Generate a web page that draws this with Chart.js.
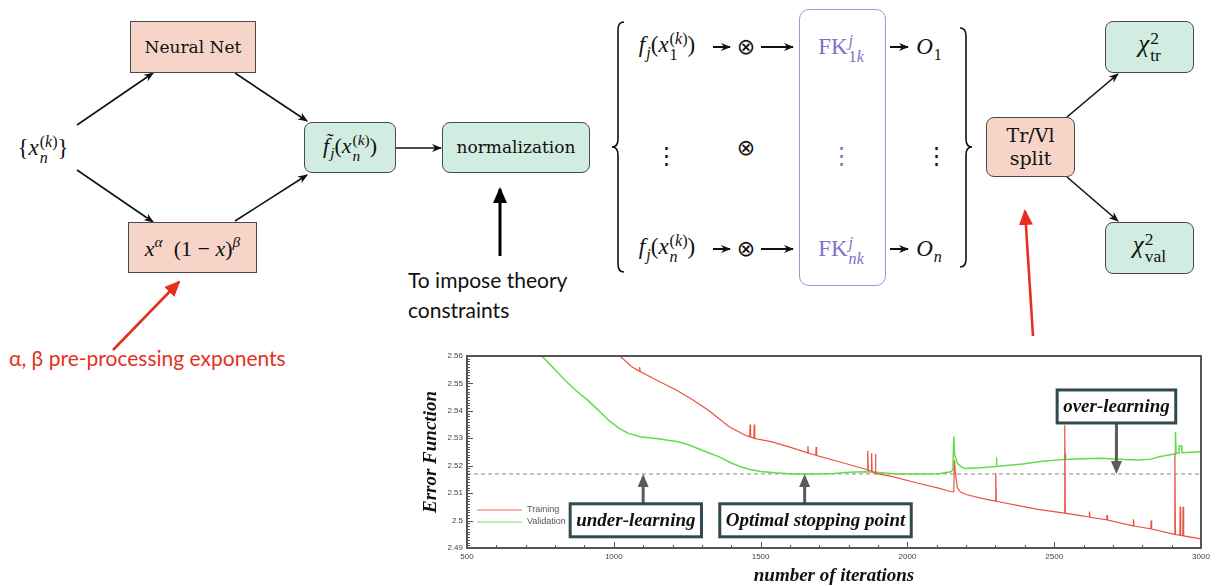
<!DOCTYPE html>
<html>
<head>
<meta charset="utf-8">
<script src="https://cdn.jsdelivr.net/npm/chart.js@4.4.1/dist/chart.umd.min.js"></script>
<style>
  html, body { margin: 0; padding: 0; background: #fff; }
  #page { position: relative; width: 1216px; height: 586px; overflow: hidden; font-family: "DejaVu Serif", serif; color: #111; }
  .box { position: absolute; box-sizing: border-box; display: flex; align-items: center; justify-content: center; border: 1px solid #4a4a4a; font-size: 17px; text-align: center; line-height: 1.2; }
  .salmon { background: #f6d5c8; }
  .mint { background: #d1ece1; border-radius: 8px; }
  .at { position: absolute; transform: translate(-50%, -50%); white-space: nowrap; font-size: 18px; }
  .m { font-family: "Liberation Serif", serif; font-size: 23px; }
  i { font-style: italic; }
  .ss { display: inline-block; vertical-align: -0.5em; font-size: 0.7em; line-height: 1.0; text-align: left; margin-left: 1px; }
  .ss > span { display: block; }
  .sup { font-size: 0.7em; vertical-align: 0.6em; }
  .sb { font-size: 0.7em; vertical-align: -0.35em; margin-left: 1px; }
  .op { font-family: "DejaVu Sans", sans-serif; font-size: 22px; }
  .purple { color: #7a73c9; }
  .sans { position: absolute; font-family: Lato, "Open Sans", sans-serif; font-size: 21px; line-height: 30px; white-space: nowrap; }
  #fk { position: absolute; left: 799px; top: 9px; width: 87px; height: 277px; box-sizing: border-box; border: 1px solid #9d97da; border-radius: 10px; }
  #chartWrap { position: absolute; left: 400px; top: 340px; width: 816px; height: 246px; }
  svg { position: absolute; left: 0; top: 0; }
</style>
</head>
<body>
<div id="page">
  <svg width="1216" height="586">
    <defs>
      <marker id="ah" markerWidth="10" markerHeight="8" refX="9" refY="4" orient="auto" markerUnits="userSpaceOnUse">
        <path d="M0,0 L10,4 L0,8 L3,4 z" fill="#111"/>
      </marker>
      <marker id="ahRed" markerWidth="16" markerHeight="14" refX="14" refY="7" orient="auto" markerUnits="userSpaceOnUse">
        <path d="M0,0 L16,7 L0,14 z" fill="#e3311d"/>
      </marker>
      <marker id="ahBig" markerWidth="16" markerHeight="14" refX="14" refY="7" orient="auto" markerUnits="userSpaceOnUse">
        <path d="M0,0 L16,7 L0,14 z" fill="#000"/>
      </marker>
    </defs>
    <g stroke="#111" stroke-width="1.6" fill="none" marker-end="url(#ah)">
      <line x1="77" y1="125" x2="153" y2="73"/>
      <line x1="77" y1="170" x2="153" y2="222"/>
      <line x1="235" y1="73" x2="307" y2="121"/>
      <line x1="235" y1="221" x2="307" y2="175"/>
      <line x1="396" y1="148" x2="441" y2="148"/>
      <line x1="1067" y1="117" x2="1118" y2="74"/>
      <line x1="1067" y1="177" x2="1118" y2="221"/>
    </g>
    <g stroke="#111" stroke-width="2" fill="none" marker-end="url(#ah)">
      <line x1="713" y1="47" x2="730" y2="47"/>
      <line x1="761" y1="47" x2="793" y2="47"/>
      <line x1="890" y1="47" x2="908" y2="47"/>
      <line x1="713" y1="249" x2="730" y2="249"/>
      <line x1="761" y1="249" x2="793" y2="249"/>
      <line x1="890" y1="249" x2="908" y2="249"/>
    </g>
    <line x1="500" y1="256" x2="500" y2="189" stroke="#000" stroke-width="3" marker-end="url(#ahBig)"/>
    <line x1="113" y1="350" x2="179" y2="282" stroke="#e3311d" stroke-width="2.6" marker-end="url(#ahRed)"/>
    <line x1="1033" y1="336" x2="1025" y2="211" stroke="#e3311d" stroke-width="2.6" marker-end="url(#ahRed)"/>
    <path d="M624,22 Q618,22 618,30 L618,139 Q618,147 612,147 Q618,147 618,155 L618,264 Q618,272 624,272" stroke="#111" stroke-width="1.6" fill="none"/>
    <path d="M960,28 Q966,28 966,36 L966,139 Q966,147 972,147 Q966,147 966,155 L966,259 Q966,267 960,267" stroke="#111" stroke-width="1.6" fill="none"/>
  </svg>

  <div class="at m" style="left:43px; top:150px;">{<i>x</i><span class="ss"><span>(<i>k</i>)</span><span><i>n</i></span></span>}</div>
  <div class="box salmon" style="left:130px; top:21px; width:126px; height:52px;">Neural Net</div>
  <div class="box salmon m" style="left:128px; top:222px; width:129px; height:51px; font-size:22px;"><span><i>x</i><span class="sup"><i>α</i></span>&nbsp;&nbsp;(1 − <i>x</i>)<span class="sup"><i>β</i></span></span></div>
  <div class="box mint m" style="left:304px; top:122px; width:92px; height:51px; font-size:22px;"><span><i>f̃</i><span class="sb"><i>j</i></span>(<i>x</i><span class="ss"><span>(<i>k</i>)</span><span><i>n</i></span></span>)</span></div>
  <div class="box mint" style="left:442px; top:122px; width:148px; height:51px;">normalization</div>

  <div class="sans" style="left:408px; top:265px;">To impose theory</div>
  <div class="sans" style="left:408px; top:295px;">constraints</div>
  <div class="sans" style="left:9px; top:343px; color:#e3311d;">α, β pre-processing exponents</div>

  <div id="fk"></div>
  <div class="at m" style="left:667px; top:47px;"><i>f</i><span class="sb"><i>j</i></span>(<i>x</i><span class="ss"><span>(<i>k</i>)</span><span>1</span></span>)</div>
  <div class="at op" style="left:746px; top:46px;">⊗</div>
  <div class="at m purple" style="left:841px; top:49px;">FK<span class="ss"><span><i>j</i></span><span>1<i>k</i></span></span></div>
  <div class="at m" style="left:929px; top:49px;"><i>O</i><span class="sb">1</span></div>

  <div class="at m" style="left:666px; top:155px;">⋮</div>
  <div class="at op" style="left:746px; top:147px;">⊗</div>
  <div class="at m purple" style="left:841px; top:155px;">⋮</div>
  <div class="at m" style="left:936px; top:155px;">⋮</div>

  <div class="at m" style="left:667px; top:249px;"><i>f</i><span class="sb"><i>j</i></span>(<i>x</i><span class="ss"><span>(<i>k</i>)</span><span><i>n</i></span></span>)</div>
  <div class="at op" style="left:746px; top:248px;">⊗</div>
  <div class="at m purple" style="left:841px; top:251px;">FK<span class="ss"><span><i>j</i></span><span><i>nk</i></span></span></div>
  <div class="at m" style="left:929px; top:251px;"><i>O</i><span class="sb"><i>n</i></span></div>

  <div class="box salmon" style="left:986px; top:117px; width:89px; height:60px; border-radius:8px; font-size:19px;">Tr/Vl<br>split</div>
  <div class="box mint m" style="left:1105px; top:21px; width:89px; height:52px; font-size:25px;"><span><i>χ</i><span class="ss"><span>2</span><span>tr</span></span></span></div>
  <div class="box mint m" style="left:1105px; top:222px; width:89px; height:52px; font-size:25px;"><span><i>χ</i><span class="ss"><span>2</span><span>val</span></span></span></div>

  <div id="chartWrap"><canvas id="errChart" width="816" height="246"></canvas></div>
</div>

<script>
// error function vs iterations
const trainIter = [1021, 1060, 1086, 1088, 1090, 1150, 1214, 1270, 1321, 1393, 1446, 1463, 1464, 1466, 1477, 1478, 1480,
  1536, 1600, 1660, 1661, 1663, 1688, 1689, 1691, 1786, 1857, 1864, 1865, 1867, 1877, 1878, 1880, 1890, 1891, 1893,
  1950, 2036, 2100, 2150, 2158, 2160, 2163, 2170, 2180, 2200, 2250, 2300, 2301, 2303, 2400, 2450, 2535, 2536, 2538,
  2600, 2619, 2620, 2622, 2679, 2680, 2682, 2750, 2769, 2770, 2772, 2829, 2830, 2832, 2910, 2911, 2913,
  2928, 2929, 2931, 2938, 2939, 2941, 3000];
const trainErr = [2.5600, 2.5562, 2.5545, 2.5560, 2.5543, 2.5510, 2.5475, 2.5440, 2.5403, 2.5342, 2.5312, 2.5305, 2.5350, 2.5305, 2.5300, 2.5350, 2.5299,
  2.5288, 2.5268, 2.5247, 2.5272, 2.5246, 2.5238, 2.5268, 2.5237, 2.5209, 2.5187, 2.5184, 2.5255, 2.5183, 2.5180, 2.5245, 2.5179, 2.5175, 2.5243, 2.5172,
  2.5160, 2.5136, 2.5120, 2.5105, 2.5105, 2.5220, 2.5180, 2.5120, 2.5105, 2.5095, 2.5082, 2.5071, 2.5172, 2.5070, 2.5050, 2.5040, 2.5027, 2.5348, 2.5027,
  2.5016, 2.5013, 2.5033, 2.5012, 2.5003, 2.5020, 2.5002, 2.4985, 2.4981, 2.5005, 2.4980, 2.4970, 2.5000, 2.4969, 2.4950, 2.5245, 2.4949,
  2.4946, 2.5050, 2.4946, 2.4945, 2.5050, 2.4944, 2.4933];

const validIter = [755, 800, 839, 870, 911, 950, 982, 1018, 1050, 1089, 1150, 1214, 1250, 1286, 1320, 1357, 1400, 1429, 1460,
  1500, 1550, 1607, 1680, 1750, 1800, 1857, 1900, 1964, 2050, 2107, 2148, 2155, 2158, 2161, 2170, 2185, 2197, 2250,
  2302, 2303, 2305, 2393, 2460, 2536, 2537, 2539, 2600, 2661, 2720, 2786, 2830, 2857, 2900, 2912, 2913, 2915,
  2925, 2926, 2934, 2935, 3000];
const validErr = [2.5600, 2.5550, 2.5506, 2.5475, 2.5439, 2.5400, 2.5366, 2.5336, 2.5318, 2.5306, 2.5298, 2.5288, 2.5278, 2.5263, 2.5248, 2.5233, 2.5210, 2.5197, 2.5187,
  2.5179, 2.5174, 2.5170, 2.5170, 2.5172, 2.5176, 2.5178, 2.5175, 2.5170, 2.5170, 2.5171, 2.5178, 2.5185, 2.5306, 2.5240, 2.5209, 2.5195, 2.5190, 2.5193,
  2.5197, 2.5230, 2.5197, 2.5206, 2.5216, 2.5223, 2.5245, 2.5223, 2.5225, 2.5227, 2.5224, 2.5221, 2.5224, 2.5233, 2.5241, 2.5243, 2.5324, 2.5245,
  2.5246, 2.5272, 2.5272, 2.5247, 2.5251];

const seriesNames = ['Training', 'Validation'];
const stopLevel = 2.517;
const xRange = [500, 3000];
const yRange = [2.49, 2.56];

// annotations: arrow points at stopLevel, box centre in data units
const notes = [
  { text: 'under-learning', arrowAt: 1100, boxX: 1075, boxY: 2.5001 },
  { text: 'Optimal stopping point', arrowAt: 1650, boxX: 1687, boxY: 2.5001 },
  { text: 'over-learning', arrowAt: 2712, boxX: 2712, boxY: 2.5416 },
];

const serifBold = 'italic bold 19px "Liberation Serif", serif';

function pairs(xs, ys) {
  return xs.map((x, i) => ({ x, y: ys[i] }));
}

const frameTicks = {
  id: 'frameTicks',
  afterDatasetsDraw(chart) {
    const { ctx, chartArea: a, scales: { x, y } } = chart;
    ctx.save();
    ctx.strokeStyle = '#555';
    ctx.lineWidth = 1;
    ctx.beginPath();
    for (let v = xRange[0]; v <= xRange[1]; v += 100) {
      const px = Math.round(x.getPixelForValue(v)) + 0.5;
      const len = v % 500 === 0 ? 6 : 3;
      ctx.moveTo(px, a.bottom);
      ctx.lineTo(px, a.bottom - len);
    }
    for (let i = 0; i <= 70; i += 1) {
      const py = Math.round(y.getPixelForValue(yRange[0] + i * 0.001)) + 0.5;
      const len = i % 10 === 0 ? 6 : 3;
      ctx.moveTo(a.left, py);
      ctx.lineTo(a.left + len, py);
    }
    ctx.stroke();
    ctx.lineWidth = 2;
    ctx.strokeStyle = '#555';
    ctx.strokeRect(a.left, a.top, a.right - a.left, a.bottom - a.top);
    ctx.restore();
  },
};

const insideLegend = {
  id: 'insideLegend',
  afterDatasetsDraw(chart) {
    const { ctx, chartArea: a } = chart;
    ctx.save();
    ctx.font = '9px "Liberation Sans", sans-serif';
    ctx.textBaseline = 'middle';
    ctx.fillStyle = '#555';
    seriesNames.forEach((name, i) => {
      const ds = chart.data.datasets[i];
      const yy = a.bottom - 38 + i * 12;
      ctx.globalAlpha = 0.6;
      ctx.strokeStyle = ds.borderColor;
      ctx.lineWidth = 1.3;
      ctx.beginPath();
      ctx.moveTo(a.left + 10, yy);
      ctx.lineTo(a.left + 55, yy);
      ctx.stroke();
      ctx.globalAlpha = 1;
      ctx.fillText(name, a.left + 60, yy);
    });
    ctx.restore();
  },
};

const noteBoxes = {
  id: 'noteBoxes',
  afterDraw(chart) {
    const { ctx, scales: { x, y } } = chart;
    const tipY = y.getPixelForValue(stopLevel);
    ctx.save();
    ctx.font = serifBold;
    notes.forEach((n) => {
      const ax = x.getPixelForValue(n.arrowAt);
      const bx = x.getPixelForValue(n.boxX);
      const by = y.getPixelForValue(n.boxY);
      const w = ctx.measureText(n.text).width + 12;
      const h = 33;
      const up = by > tipY;
      const startY = up ? by - h / 2 : by + h / 2;
      const dir = up ? 1 : -1;
      ctx.strokeStyle = '#5b5b5b';
      ctx.fillStyle = '#5b5b5b';
      ctx.lineWidth = 3;
      ctx.beginPath();
      ctx.moveTo(ax, startY);
      ctx.lineTo(ax, tipY + dir * 10);
      ctx.stroke();
      ctx.beginPath();
      ctx.moveTo(ax, tipY);
      ctx.lineTo(ax - 5.5, tipY + dir * 13);
      ctx.lineTo(ax + 5.5, tipY + dir * 13);
      ctx.closePath();
      ctx.fill();
      ctx.fillStyle = '#fff';
      ctx.fillRect(bx - w / 2, by - h / 2, w, h);
      ctx.strokeStyle = '#2f4b50';
      ctx.lineWidth = 3;
      ctx.strokeRect(bx - w / 2, by - h / 2, w, h);
      ctx.fillStyle = '#111';
      ctx.textAlign = 'center';
      ctx.textBaseline = 'middle';
      ctx.fillText(n.text, bx, by + 1);
    });
    ctx.restore();
  },
};

const axisTitleFont = { family: '"Liberation Serif", serif', size: 19, style: 'italic', weight: 'bold', lineHeight: 1 };
const tickFont = { family: '"Liberation Sans", sans-serif', size: 8 };

new Chart(document.getElementById('errChart'), {
  type: 'line',
  data: {
    datasets: [
      { label: seriesNames[0], data: pairs(trainIter, trainErr), borderColor: '#e8553f', borderWidth: 1.2, pointRadius: 0, tension: 0 },
      { label: seriesNames[1], data: pairs(validIter, validErr), borderColor: '#62dc4c', borderWidth: 1.5, pointRadius: 0, tension: 0 },
      { label: 'stop', data: [{ x: xRange[0], y: stopLevel }, { x: xRange[1], y: stopLevel }], borderColor: '#8a8a8a', borderWidth: 1, borderDash: [4, 3], pointRadius: 0 },
    ],
  },
  options: {
    responsive: false,
    animation: false,
    layout: { padding: { left: 22, top: 16, right: 15, bottom: 0 } },
    plugins: { legend: { display: false }, tooltip: { enabled: false } },
    scales: {
      x: {
        type: 'linear',
        min: xRange[0],
        max: xRange[1],
        ticks: { stepSize: 500, font: tickFont, color: '#444', padding: 4, maxRotation: 0, callback: (v) => String(v) },
        grid: { drawOnChartArea: false, drawTicks: false },
        border: { color: '#555', width: 2 },
        title: { display: true, text: 'number of iterations', font: axisTitleFont, color: '#111', padding: 0 },
        afterFit(scale) { scale.height = 38; },
      },
      y: {
        min: yRange[0],
        max: yRange[1],
        ticks: { stepSize: 0.01, font: tickFont, color: '#444', padding: 4, callback: (v) => String(Number(v.toFixed(2))) },
        grid: { drawOnChartArea: false, drawTicks: false },
        border: { color: '#555', width: 2 },
        title: { display: true, text: 'Error Function', font: axisTitleFont, color: '#111', padding: 0 },
        afterFit(scale) { scale.width = 45; },
      },
    },
  },
  plugins: [frameTicks, insideLegend, noteBoxes],
});
</script>
</body>
</html>
